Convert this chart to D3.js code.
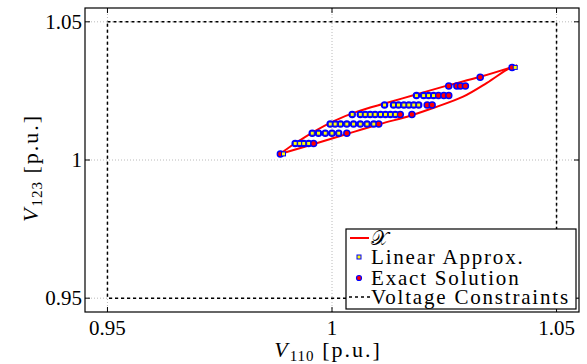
<!DOCTYPE html>
<html><head><meta charset="utf-8">
<script src="https://cdn.jsdelivr.net/npm/d3@7"></script>
<style>body{margin:0;background:#fff}svg{display:block}</style>
</head><body>
<svg id="c" width="587" height="364"></svg>
<script>
// ---- data ----
const xTicks = [0.95, 1, 1.05];
const yTicks = [0.95, 1, 1.05];
const xTickLabels = ["0.95", "1", "1.05"];
const yTickLabels = ["0.95", "1", "1.05"];
const vMin = 0.95, vMax = 1.05;            // voltage constraints
// boundary of set X: upper edge and lower edge, both from left tip to right tip
const upperV110 = [0.9884, 0.9915, 0.9959, 1.0004, 1.0056, 1.0123, 1.0189, 1.0256, 1.0330, 1.0412];
const upperV123 = [1.0022, 1.0057, 1.0102, 1.0141, 1.0175, 1.0207, 1.0238, 1.0269, 1.0301, 1.0342];
const lowerV110 = [0.9884, 0.9958, 1.0033, 1.0107, 1.0174, 1.0225, 1.0292, 1.0345, 1.0396, 1.0412];
const lowerV123 = [1.0022, 1.0057, 1.0094, 1.0130, 1.0160, 1.0188, 1.0229, 1.0279, 1.0333, 1.0342];
const rowV123 = [1.0022, 1.0060, 1.0097, 1.0130, 1.0165, 1.0199, 1.0233, 1.0268, 1.0299, 1.0335];
// Exact Solution (V110 per row)
const exactRows = [
  [0.9885],
  [0.9918, 0.9928, 0.9937, 0.9948, 0.9959],
  [0.9956, 0.9970, 0.9985, 1.0000, 1.0015, 1.0033],
  [0.9996, 1.0007, 1.0019, 1.0033, 1.0048, 1.0063, 1.0078, 1.0093, 1.0104],
  [1.0045, 1.0063, 1.0074, 1.0085, 1.0096, 1.0108, 1.0119, 1.0130, 1.0141, 1.0152, 1.0178],
  [1.0117, 1.0137, 1.0148, 1.0160, 1.0171, 1.0182, 1.0193, 1.0212, 1.0223],
  [1.0188, 1.0204, 1.0215, 1.0226, 1.0237, 1.0249, 1.0260],
  [1.0260, 1.0278, 1.0286, 1.0297],
  [1.0330],
  [1.0401]
];
// Linear Approx. (V110 per row)
const linearRows = [
  [0.9892],
  [0.9918, 0.9928, 0.9937, 0.9948],
  [0.9956, 0.9970, 0.9985, 1.0000, 1.0015],
  [0.9996, 1.0007, 1.0019, 1.0033, 1.0048, 1.0063, 1.0078, 1.0093],
  [1.0045, 1.0063, 1.0074, 1.0085, 1.0096, 1.0108, 1.0119, 1.0130, 1.0141],
  [1.0117, 1.0137, 1.0148, 1.0160, 1.0171, 1.0182, 1.0193],
  [1.0188, 1.0204, 1.0215, 1.0226],
  [],
  [],
  [1.0408]
];
const legendLabels = ["Linear Approx.", "Exact Solution", "Voltage Constraints"];

// ---- chart ----
const svg = d3.select("#c");
const L = 85, R = 579, T = 8, B = 312;
const x = d3.scaleLinear().domain([0.945, 1.055]).range([L, R]);
const y = d3.scaleLinear().domain([0.945, 1.055]).range([B, T]);
const serif = "'Liberation Serif', 'DejaVu Serif', serif";
const blue = "#0000ff", red = "#ff0000", yellow = "#ffff00";

// grid
const g = svg.append("g");
g.selectAll(".gx").data(xTicks).join("line")
  .attr("x1", d => x(d)).attr("x2", d => x(d)).attr("y1", T).attr("y2", B)
  .attr("stroke", "#a8a8a8").attr("stroke-width", 0.8).attr("stroke-dasharray", "1,2");
g.selectAll(".gy").data(yTicks).join("line")
  .attr("y1", d => y(d)).attr("y2", d => y(d)).attr("x1", L).attr("x2", R)
  .attr("stroke", "#a8a8a8").attr("stroke-width", 0.8).attr("stroke-dasharray", "1,2");

// voltage constraints
svg.append("rect")
  .attr("x", x(vMin)).attr("y", y(vMax))
  .attr("width", x(vMax) - x(vMin)).attr("height", y(vMin) - y(vMax))
  .attr("fill", "none").attr("stroke", "#000").attr("stroke-width", 1.5)
  .attr("stroke-dasharray", "3,3");

// set X boundary (two edges)
const lineGen = d3.line().x(d => x(d[0])).y(d => y(d[1])).curve(d3.curveCatmullRom.alpha(0.5));
[[upperV110, upperV123], [lowerV110, lowerV123]].forEach(([xs, ys]) => {
  svg.append("path")
    .attr("d", lineGen(xs.map((v, i) => [v, ys[i]])))
    .attr("fill", "none").attr("stroke", red).attr("stroke-width", 2);
});

// markers
const exact = [];
exactRows.forEach((row, i) => row.forEach(v => exact.push([v, rowV123[i]])));
const lin = [];
linearRows.forEach((row, i) => row.forEach(v => lin.push([v, rowV123[i]])));
svg.append("g").selectAll("circle").data(exact).join("circle")
  .attr("cx", d => x(d[0])).attr("cy", d => y(d[1])).attr("r", 3)
  .attr("fill", red).attr("stroke", blue).attr("stroke-width", 1.5);
svg.append("g").selectAll("rect").data(lin).join("rect")
  .attr("x", d => x(d[0]) - 2).attr("y", d => y(d[1]) - 2).attr("width", 4).attr("height", 4)
  .attr("fill", yellow).attr("stroke", blue).attr("stroke-width", 1);

// axes box
svg.append("rect").attr("x", L).attr("y", T).attr("width", R - L).attr("height", B - T)
  .attr("fill", "none").attr("stroke", "#000").attr("stroke-width", 1.2);
const tl = 5;
xTicks.forEach(t => {
  svg.append("line").attr("x1", x(t)).attr("x2", x(t)).attr("y1", B).attr("y2", B - tl).attr("stroke", "#000");
  svg.append("line").attr("x1", x(t)).attr("x2", x(t)).attr("y1", T).attr("y2", T + tl).attr("stroke", "#000");
});
yTicks.forEach(t => {
  svg.append("line").attr("y1", y(t)).attr("y2", y(t)).attr("x1", L).attr("x2", L + tl).attr("stroke", "#000");
  svg.append("line").attr("y1", y(t)).attr("y2", y(t)).attr("x1", R).attr("x2", R - tl).attr("stroke", "#000");
});
// tick labels
svg.append("g").selectAll("text").data(xTicks).join("text")
  .attr("x", d => x(d)).attr("y", 335).attr("text-anchor", "middle")
  .attr("font-family", serif).attr("font-size", 21).text((d, i) => xTickLabels[i]);
svg.append("g").selectAll("text").data(yTicks).join("text")
  .attr("x", 82).attr("y", d => y(d) + 7).attr("text-anchor", "end")
  .attr("font-family", serif).attr("font-size", 21).text((d, i) => yTickLabels[i]);

// axis labels
const xl = svg.append("text").attr("x", 328).attr("y", 357).attr("text-anchor", "middle")
  .attr("font-family", serif).attr("font-size", 22).attr("letter-spacing", 2);
xl.append("tspan").attr("font-style", "italic").text("V");
xl.append("tspan").attr("font-size", 15).attr("dy", 4).attr("letter-spacing", 1).text("110");
xl.append("tspan").attr("dy", -4).text(" [p.u.]");
const yl = svg.append("text").attr("transform", "translate(38,168) rotate(-90)").attr("text-anchor", "middle")
  .attr("font-family", serif).attr("font-size", 22).attr("letter-spacing", 2);
yl.append("tspan").attr("font-style", "italic").text("V");
yl.append("tspan").attr("font-size", 15).attr("dy", 4).attr("letter-spacing", 1).text("123");
yl.append("tspan").attr("dy", -4).text(" [p.u.]");

// legend
const lg = svg.append("g");
lg.append("rect").attr("x", 346).attr("y", 229).attr("width", 230).attr("height", 80)
  .attr("fill", "#fff").attr("stroke", "#000").attr("stroke-width", 1.2);
const rowsY = [238, 257, 278, 297];
lg.append("line").attr("x1", 350).attr("x2", 369).attr("y1", rowsY[0]).attr("y2", rowsY[0])
  .attr("stroke", red).attr("stroke-width", 2);
lg.append("text").attr("x", 371).attr("y", rowsY[0] + 7).attr("font-family", serif)
  .attr("font-size", 20).text("𝒳");
lg.append("rect").attr("x", 357).attr("y", rowsY[1] - 2).attr("width", 4).attr("height", 4)
  .attr("fill", yellow).attr("stroke", blue).attr("stroke-width", 1);
lg.append("circle").attr("cx", 359).attr("cy", rowsY[2]).attr("r", 2.5)
  .attr("fill", red).attr("stroke", blue).attr("stroke-width", 1.2);
lg.append("line").attr("x1", 349).attr("x2", 370).attr("y1", rowsY[3]).attr("y2", rowsY[3])
  .attr("stroke", "#000").attr("stroke-width", 1.5).attr("stroke-dasharray", "3,3");
legendLabels.forEach((t, i) => {
  lg.append("text").attr("x", 371).attr("y", rowsY[i + 1] + 7).attr("font-family", serif)
    .attr("font-size", 21).attr("letter-spacing", 1.8).text(t);
});
</script>
</body></html>
